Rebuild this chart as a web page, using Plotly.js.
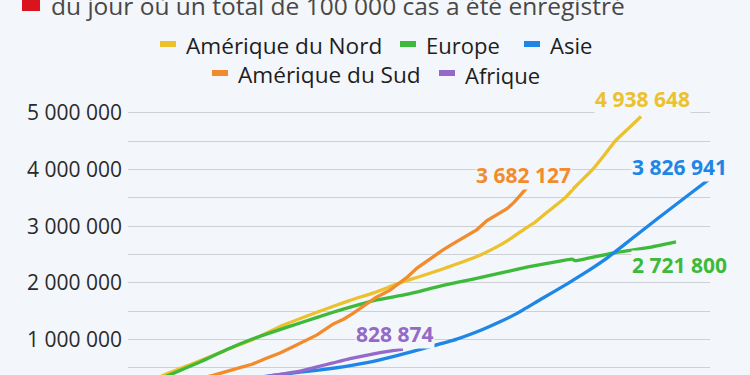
<!DOCTYPE html>
<html>
<head>
<meta charset="utf-8">
<script src="https://cdn.plot.ly/plotly-3.0.1.min.js"></script>
<style>
html, body { margin:0; padding:0; overflow:hidden; background:#f3f6fa; }
#chart { width:750px; height:440px; }
</style>
</head>
<body>
<div id="chart"></div>
<script>
// ---- data (days since 100 000 cases, cumulative cases) ----
const seriesNames = ["Amérique du Nord", "Europe", "Asie", "Amérique du Sud", "Afrique"];

const naDays   = [0, 4, 8.75, 16.25, 26.25, 31.25, 38.75, 47.25, 55.5, 61.75, 67.25, 72, 78.5, 86.75, 91, 95, 99.75, 101.75, 105, 109.25, 112, 116, 119, 121.75, 125, 128.25];
const naCases  = [100000, 200000, 363000, 575000, 860000, 1000000, 1250000, 1480000, 1690000, 1830000, 1980000, 2090000, 2240000, 2450000, 2590000, 2750000, 2980000, 3070000, 3260000, 3500000, 3710000, 3990000, 4250000, 4500000, 4720000, 4938648];

const euDays   = [0, 5, 10, 18, 25, 31.25, 37, 43, 51.25, 56, 61.75, 70, 78.5, 86, 95, 100, 105.5, 111, 111.75, 116, 122.5, 130, 137];
const euCases  = [100000, 220000, 360000, 600000, 830000, 1010000, 1150000, 1290000, 1480000, 1580000, 1690000, 1800000, 1950000, 2060000, 2200000, 2280000, 2350000, 2420000, 2390000, 2450000, 2540000, 2620000, 2721800];

const asDays   = [0, 10, 20, 30, 36.25, 43, 51.25, 59.75, 67, 75.5, 82, 88.5, 93, 97.25, 103, 110, 115, 120, 124, 128.5, 132.5, 136.75, 141, 145.25];
const asCases  = [100000, 160000, 220000, 300000, 363000, 420000, 490000, 590000, 710000, 870000, 1000000, 1170000, 1310000, 1460000, 1700000, 1990000, 2210000, 2450000, 2670000, 2920000, 3140000, 3370000, 3600000, 3826941];

const saDays   = [0, 8, 15, 21.25, 28, 31, 34.75, 38, 41.25, 43, 47.25, 51.25, 54, 56.25, 59.75, 62, 65.5, 67.25, 70, 72.25, 75, 78.75, 81, 84.75, 87.25, 89.75, 92, 94.75, 96.5, 99.75];
const saCases  = [100000, 170000, 260000, 363000, 500000, 560000, 670000, 760000, 870000, 930000, 1080000, 1270000, 1360000, 1460000, 1630000, 1740000, 1870000, 1960000, 2110000, 2260000, 2400000, 2580000, 2680000, 2840000, 2940000, 3100000, 3190000, 3310000, 3420000, 3682127];

const afDays   = [0, 10, 20, 30, 36.25, 43, 47, 51.25, 55.5, 61.75, 65, 68.75];
const afCases  = [100000, 160000, 220000, 290000, 363000, 440000, 510000, 585000, 660000, 750000, 790000, 828874];

const yTickVals  = [500000, 1000000, 1500000, 2000000, 2500000, 3000000, 3500000, 4000000, 4500000, 5000000];
const yTickTexts = ["", "1 000 000", "", "2 000 000", "", "3 000 000", "", "4 000 000", "", "5 000 000"];

const subtitle = "du jour où un total de 100 000 cas a été enregistré";

// ---- styling ----
const colors = ["#ecc12c", "#3dba3a", "#1d86e6", "#f28b2c", "#9369c9"];
const BG = "#f3f6fa";
const W = 750, H = 440, ML = 128, MR = 40, MT = 96, MB = 44;
const PW = W - ML - MR, PH = H - MT - MB;
const px = x => (x - ML) / PW;
const py = y => (MT + PH - y) / PH;

const xs = [naDays, euDays, asDays, saDays, afDays];
const ys = [naCases, euCases, asCases, saCases, afCases];
const fmt = v => String(Math.round(v)).replace(/\B(?=(\d{3})+(?!\d))/g, " ");

const traces = seriesNames.map((n, i) => ({
  type: "scatter", mode: "lines", name: n,
  x: xs[i], y: ys[i],
  line: { color: colors[i], width: 3.3, shape: i === 3 ? "linear" : "spline", smoothing: 0.4 },
  hoverinfo: "skip"
}));

// end labels (offsets in px relative to last point)
const labelShift = [[1, 17], [3, -23], [-30, 12], [-4, 13], [-8, 15]];
const annotations = seriesNames.map((n, i) => {
  const k = xs[i].length - 1;
  return {
    x: xs[i][k], y: ys[i][k], xref: "x", yref: "y",
    text: fmt(ys[i][k]), showarrow: false,
    xshift: labelShift[i][0], yshift: labelShift[i][1],
    font: { family: "Open Sans", size: 21, color: colors[i], weight: 700 },
    bgcolor: BG, borderpad: 0
  };
});

// subtitle
annotations.push({
  xref: "paper", yref: "paper", x: px(49), y: py(6), xanchor: "left", yanchor: "middle",
  text: subtitle, showarrow: false,
  font: { family: "Open Sans", size: 24.5, color: "#484848" }
});

// custom legend
const legendPos = [[160, 44], [400, 44], [524, 44], [212, 73], [439, 73]];
const legendTextY = [45, 45, 45, 74.8, 74.8];
const legendSize = [22.6, 22, 22, 22.6, 22];
const shapes = [{
  type: "rect", xref: "paper", yref: "paper",
  x0: px(22), x1: px(40), y0: py(11), y1: py(-8),
  fillcolor: "#d9141e", line: { width: 0 }
}];
seriesNames.forEach((n, i) => {
  const [lx, ly] = legendPos[i];
  shapes.push({
    type: "rect", xref: "paper", yref: "paper",
    x0: px(lx), x1: px(lx + 16), y0: py(ly + 3), y1: py(ly - 3),
    fillcolor: colors[i], line: { width: 0 }
  });
  annotations.push({
    xref: "paper", yref: "paper", x: px(lx + 24), y: py(legendTextY[i]),
    xanchor: "left", yanchor: "middle", showarrow: false,
    text: n, font: { family: "Open Sans", size: legendSize[i], color: "#1e1e1e" }
  });
});

const layout = {
  width: W, height: H,
  margin: { l: ML, r: MR, t: MT, b: MB, pad: 0 },
  paper_bgcolor: BG, plot_bgcolor: BG,
  showlegend: false,
  xaxis: { range: [0, 145.5], showgrid: false, zeroline: false, showticklabels: false, ticks: "", showline: false, fixedrange: true },
  yaxis: {
    range: [0, 5300000], tickvals: yTickVals, ticktext: yTickTexts,
    showgrid: true, gridcolor: "#cdd0d4", gridwidth: 1, zeroline: false, ticks: "",
    tickfont: { family: "Open Sans", size: 21, color: "#2a2a2a" },
    ticklabelstandoff: 5, fixedrange: true
  },
  annotations: annotations,
  shapes: shapes
};

Plotly.newPlot("chart", traces, layout, { staticPlot: true, displayModeBar: false });
</script>
</body>
</html>
